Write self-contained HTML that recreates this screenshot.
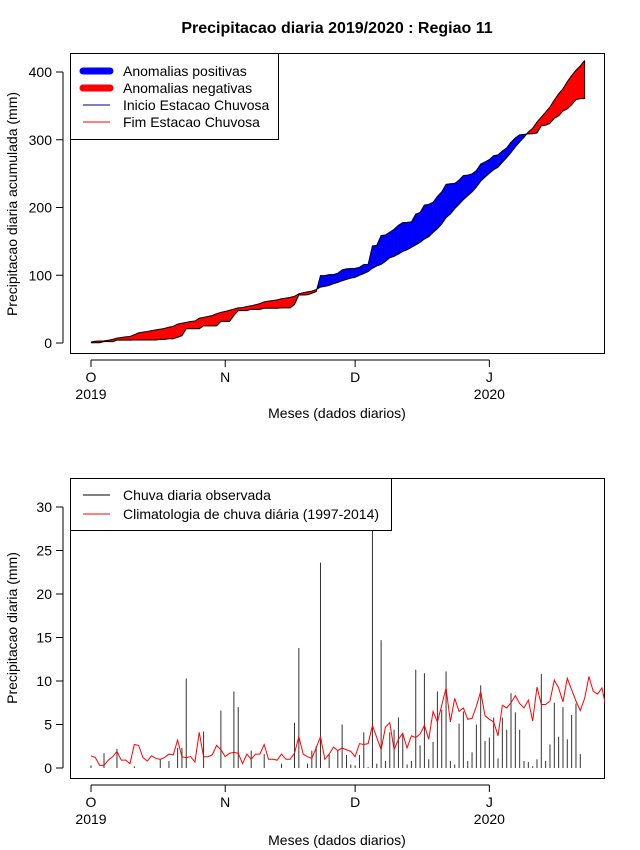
<!DOCTYPE html>
<html><head><meta charset="utf-8"><style>
body{margin:0;background:#fff;}
svg{display:block;font-family:"Liberation Sans",Arial,sans-serif;}
</style></head><body>
<svg id="chart" width="640" height="850" viewBox="0 0 640 850" xmlns="http://www.w3.org/2000/svg">
<text x="337" y="33" text-anchor="middle" font-size="16" font-weight="bold">Precipitacao diaria 2019/2020 : Regiao 11</text>
<g id="topPanel"></g>
<g id="botPanel"></g>
</svg>
<script>
const obsDaily = [0.3,0,0,1.7,0,0,2.2,0,0,0,0.2,0,0,0,0,0,1.0,0,0.8,0,2.3,2.3,10.3,0,0,0,4.2,0,0,0,6.6,0,0,8.8,7.0,0,0,2.0,0,0,1.6,0,0,0,0.5,0,0,5.2,13.8,0,0.5,2.0,2.5,23.6,0,1.6,0,2.0,5.0,1.5,0.4,0.3,1.5,4.1,0.1,27.5,0.5,14.7,0.8,4.1,4.4,5.8,3.9,0.4,0.8,11.3,2.6,10.9,1.0,3.0,8.8,6.7,11.1,0.8,0.4,5.1,6.5,0.8,1.8,5.0,9.5,3.1,3.5,5.8,1.1,5.8,4.4,8.6,6.4,4.4,0.8,0.7,0.2,1.0,10.8,0.8,2.7,7.5,3.6,7.0,3.3,6.1,7.4,1.6,0];
const climDaily = [1.4,1.2,0.3,0.3,0.9,1.3,1.9,0.9,0.9,0.5,2.7,2.6,1.2,0.8,1.4,1.1,1.0,1.2,1.6,1.5,3.2,1.3,1.2,1.3,0.7,4.1,1.3,1.3,1.5,2.6,2.1,1.3,1.7,1.8,1.7,0.5,1.6,1.0,1.6,1.6,2.7,1.0,1.0,0.9,1.6,1.0,1.0,1.7,3.6,1.6,1.3,1.1,2.3,3.6,1.0,1.6,2.4,2.0,2.3,2.1,1.9,1.3,2.8,2.7,2.8,4.9,3.5,2.1,4.7,5.2,2.1,3.3,4.0,2.3,3.7,3.5,3.9,4.9,3.3,6.5,5.3,7.2,9.2,5.3,8.0,6.5,6.9,5.6,5.7,7.1,8.8,6.0,5.6,5.3,3.7,7.2,6.9,7.5,8.3,7.4,6.9,7.8,5.4,9.3,7.3,7.3,7.7,10.1,9.2,7.6,10.3,9.0,7.7,6.6,8.0,10.5,8.8,8.5,9.2,6.8];
const monthLabels = ["O","N","D","J"];
const monthDays = [0,31,61,92];
const yearLabels = ["2019","","","2020"];
const topTicks = [0,100,200,300,400];
const botTicks = [0,5,10,15,20,25,30];

const NS="http://www.w3.org/2000/svg";
function mk(tag,attrs,parent,txt){const e=document.createElementNS(NS,tag);for(const k in attrs)e.setAttribute(k,attrs[k]);if(txt!==undefined)e.textContent=txt;parent.appendChild(e);return e;}
const X0=70,X1=604;
const xs=d=>91+d*4.33;
const yTop=v=>343-v*0.6775;
const yBot=v=>768-v*8.7;
const gTop=document.getElementById('topPanel'), gBot=document.getElementById('botPanel');

const nObs=obsDaily.length;
const cObs=[],cClim=[];let sa=0,sb=0;
for(let i=0;i<nObs;i++){sa+=obsDaily[i];sb+=climDaily[i];cObs.push(sa);cClim.push(sb);}
for(let i=0;i<nObs-1;i++){
  const d0=cObs[i]-cClim[i], d1=cObs[i+1]-cClim[i+1];
  const segs=[];
  if(d0*d1<0){const t=d0/(d0-d1);
    const xm=i+t, vm=cObs[i]+t*(cObs[i+1]-cObs[i]);
    segs.push([[i,cObs[i],cClim[i]],[xm,vm,vm],d0]);
    segs.push([[xm,vm,vm],[i+1,cObs[i+1],cClim[i+1]],d1]);
  } else segs.push([[i,cObs[i],cClim[i]],[i+1,cObs[i+1],cClim[i+1]],d0+d1]);
  for(const s of segs){
    const p=mk('polygon',{points:`${xs(s[0][0])},${yTop(s[0][1])} ${xs(s[1][0])},${yTop(s[1][1])} ${xs(s[1][0])},${yTop(s[1][2])} ${xs(s[0][0])},${yTop(s[0][2])}`,fill:s[2]>=0?'#0000ff':'#ff0000',stroke:s[2]>=0?'#0000ff':'#ff0000','stroke-width':0.5},gTop);
    
    
  }
}
let po='',pc='';
for(let i=0;i<nObs;i++){po+=`${xs(i)},${yTop(cObs[i])} `;pc+=`${xs(i)},${yTop(cClim[i])} `;}
const lo=mk('polyline',{points:po,fill:'none',stroke:'#000','stroke-width':1},gTop);


const lc=mk('polyline',{points:pc,fill:'none',stroke:'#000','stroke-width':1},gTop);


mk('line',{x1:xs(nObs-1),x2:xs(nObs-1),y1:yTop(cObs[nObs-1]),y2:yTop(cClim[nObs-1]),stroke:'#000'},gTop);

function axes(g,yT,yB,ticks,yf,ylabel,ylabY,xlabY,name){
  const r=mk('rect',{x:X0+0.5,y:yT+0.5,width:X1-X0,height:yB-yT,fill:'none',stroke:'#000'},g);
  
  
  const ya=mk('g',{},g);
  mk('line',{x1:X0-7,x2:X0-7,y1:yf(ticks[0]),y2:yf(ticks[ticks.length-1]),stroke:'#000'},ya);
  ticks.forEach(t=>{
    mk('line',{x1:X0-14,x2:X0-7,y1:yf(t),y2:yf(t),stroke:'#000'},ya);
    mk('text',{x:X0-18,y:yf(t)+5,'text-anchor':'end','font-size':14},ya,String(t));});
  const xa=mk('g',{},g);
  mk('line',{x1:xs(monthDays[0]),x2:xs(monthDays[3]),y1:yB+7,y2:yB+7,stroke:'#000'},xa);
  monthDays.forEach((d,i)=>{mk('line',{x1:xs(d),x2:xs(d),y1:yB+7,y2:yB+14,stroke:'#000'},xa);
    mk('text',{x:xs(d),y:yB+29,'text-anchor':'middle','font-size':14},xa,monthLabels[i]);
    if(yearLabels[i])mk('text',{x:xs(d),y:yB+46,'text-anchor':'middle','font-size':14},xa,yearLabels[i]);});
  const yl=mk('text',{x:0,y:0,transform:`translate(17,${ylabY}) rotate(-90)`,'text-anchor':'middle','font-size':14},g,ylabel);
  
  const xl=mk('text',{x:337,y:xlabY,'text-anchor':'middle','font-size':14},g,'Meses (dados diarios)');
  
}
axes(gTop,53,353,topTicks,yTop,'Precipitacao diaria acumulada (mm)',204,418,'top');

const lg=mk('g',{},gTop);
mk('rect',{x:70.5,y:53.5,width:208,height:86,fill:'#fff',stroke:'#000'},lg);
[['Anomalias positivas','#0000ff',7],['Anomalias negativas','#ff0000',7],['Inicio Estacao Chuvosa','#000080',1],['Fim Estacao Chuvosa','#ff0000',1]].forEach((e,i)=>{
  const y=71+i*17;
  const it=mk('g',{},lg);
  mk('line',{x1:83,x2:110,y1:y,y2:y,stroke:e[1],'stroke-width':e[2],'stroke-linecap':e[2]>1?'round':'butt'},it);
  mk('text',{x:123,y:y+5,'font-size':14},it,e[0]);
});

axes(gBot,478,778,botTicks,yBot,'Precipitacao diaria (mm)',628,845,'bottom');
const cp=mk('clipPath',{id:'bc'},gBot);mk('rect',{x:X0,y:478,width:X1-X0+1,height:300},cp);
const bg=mk('g',{'clip-path':'url(#bc)'},gBot);
obsDaily.forEach((v,i)=>{
  const l=mk('line',{x1:xs(i),x2:xs(i),y1:yBot(0),y2:yBot(v),stroke:'#333','stroke-width':1},bg);
  
  
});
let pcl='';climDaily.forEach((v,i)=>{pcl+=`${xs(i)},${yBot(v)} `;});
const cl=mk('polyline',{points:pcl,fill:'none',stroke:'#ff0000','stroke-width':1},bg);



const lb=mk('g',{},gBot);
mk('rect',{x:70.5,y:478.5,width:321,height:52,fill:'#fff',stroke:'#000'},lb);
[['Chuva diaria observada','#000'],['Climatologia de chuva diária (1997-2014)','#ff0000']].forEach((e,i)=>{
  const y=495+i*19;
  const it=mk('g',{},lb);
  mk('line',{x1:83,x2:110,y1:y,y2:y,stroke:e[1]},it);
  mk('text',{x:123,y:y+5,'font-size':14},it,e[0]);
});
</script>
</body></html>
